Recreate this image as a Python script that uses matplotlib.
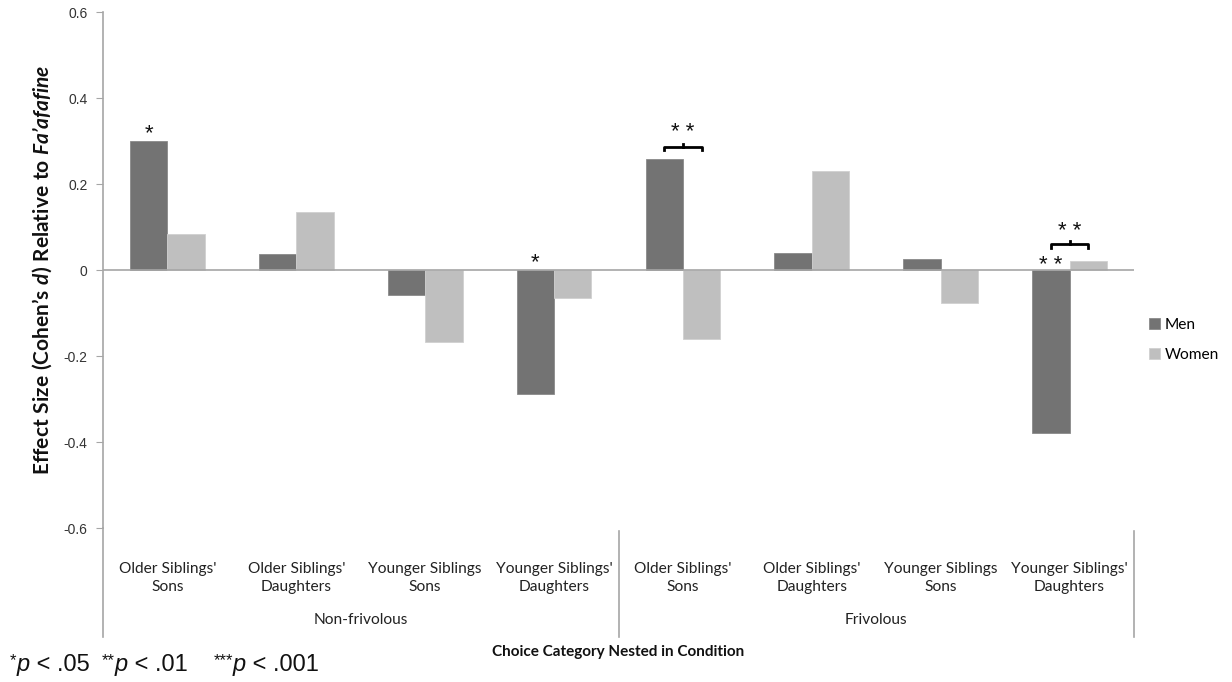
import numpy as np
import matplotlib.pyplot as plt
from matplotlib.transforms import blended_transform_factory, IdentityTransform

plt.rcParams['font.family'] = ['Lato', 'DejaVu Sans']
plt.rcParams['mathtext.fontset'] = 'custom'
plt.rcParams['mathtext.rm'] = 'Liberation Sans'
plt.rcParams['mathtext.it'] = 'Liberation Sans:italic'
plt.rcParams['mathtext.bf'] = 'Lato:bold'
plt.rcParams['mathtext.bfit'] = 'Lato:bold:italic'

# data
categories = ["Older Siblings'\nSons", "Older Siblings'\nDaughters",
              "Younger Siblings\nSons", "Younger Siblings'\nDaughters",
              "Older Siblings'\nSons", "Older Siblings'\nDaughters",
              "Younger Siblings\nSons", "Younger Siblings'\nDaughters"]
conditions = ["Non-frivolous", "Frivolous"]
men = [0.300, 0.037, -0.058, -0.288, 0.258, 0.040, 0.026, -0.379]
women = [0.084, 0.135, -0.167, -0.065, -0.160, 0.230, -0.077, 0.021]
yticks = [-0.6, -0.4, -0.2, 0, 0.2, 0.4, 0.6]
ytick_labels = ["-0.6", "-0.4", "-0.2", "0", "0.2", "0.4", "0.6"]
footnote = [("*", " < .05"), ("**", " < .01"), ("***", " < .001")]

men_color = '#737373'
women_color = '#bfbfbf'
axis_color = '#a6a6a6'

fig = plt.figure(figsize=(12.32, 6.82), dpi=100)
ax = fig.add_axes([103 / 1232, 1 - 528 / 682, (1134 - 103) / 1232, (528 - 12) / 682])

x = np.arange(len(categories))
w = 0.29
ax.bar(x - w / 2, men, w, color=men_color, edgecolor='#8a8a8a', linewidth=0.6, label='Men')
ax.bar(x + w / 2, women, w, color=women_color, edgecolor='#d0d0d0', linewidth=0.6, label='Women')

ax.set_xlim(-0.5, 7.5)
ax.set_ylim(-0.6, 0.6)
ax.axhline(0, color=axis_color, lw=1.2)

for s in ['top', 'right', 'bottom']:
    ax.spines[s].set_visible(False)
ax.spines['left'].set_color(axis_color)
ax.spines['left'].set_linewidth(1.2)
ax.set_xticks([])
ax.set_yticks(yticks)
ax.set_yticklabels(ytick_labels, fontsize=10, color='#333333', family='Liberation Sans')
ax.tick_params(axis='y', length=5, color=axis_color, pad=6)

# extended axis area for category labels
bt = blended_transform_factory(ax.transData, ax.transAxes)
low = -(637 - 528) / 516
ax.plot([-0.5, -0.5], [0, low], color=axis_color, lw=1.2, transform=bt, clip_on=False)
for xs in [3.5, 7.5]:
    ax.plot([xs, xs], [-0.005, low], color=axis_color, lw=1.2, transform=bt, clip_on=False)

for i, c in enumerate(categories):
    ax.text(i, -(578 - 528) / 516, c, transform=bt, ha='center', va='center',
            fontsize=11.2, color='#222222', linespacing=1.45)
for j, c in enumerate(conditions):
    ax.text(1.5 + 4 * j, -(620 - 528) / 516, c, transform=bt, ha='center', va='center',
            fontsize=11.2, color='#222222')

fig.text(618 / 1232, 1 - 652 / 682, "Choice Category Nested in Condition",
         ha='center', va='center', fontsize=11, weight='bold', color='#111111')

fig.text(42 / 1232, 1 - 270 / 682,
         "$\\mathbf{Effect\\ Size\\ (Cohen\u2019s\\ }\\mathbfit{d}\\mathbf{)\\ Relative\\ to\\ }"
         "\\mathbfit{Fa\u2019afafine}$",
         rotation=90, ha='center', va='center', fontsize=15, color='#111111')

# footnote: small raised stars, italic p, plain rest
renderer = fig.canvas.get_renderer()
px = 10
base = 682 - 671
gaps = [12, 26, 0]
for (stars, rest), gap in zip(footnote, gaps):
    for s, kw, dy in [(stars, dict(fontsize=12), 6), ("p", dict(fontsize=17, style='italic'), 0),
                      (rest, dict(fontsize=17), 0)]:
        t = fig.text(px, base + dy, s, transform=IdentityTransform(), ha='left', va='baseline',
                     family='Liberation Sans', color='#111111', **kw)
        px = t.get_window_extent(renderer).x1
    px += gap

# significance marks
star_kw = dict(ha='center', va='center', fontsize=16, family='Liberation Sans', color='#111111')
ax.text(0 - w / 2, 0.316, "*", **star_kw)
ax.text(3 - w / 2, 0.016, "*", **star_kw)
ax.text(7 - w / 2, 0.010, "* *", **star_kw)


def bracket(xc, y, label, ystar):
    x0, x1 = xc - w / 2, xc + w / 2
    h = 0.008
    ax.plot([x0, x0, x1, x1], [y - h, y, y, y - h], color='black', lw=2,
            solid_joinstyle='round')
    ax.plot([xc, xc], [y, y + h * 0.8], color='black', lw=2)
    ax.text(xc, ystar, label, **star_kw)


bracket(4, 0.286, "* *", 0.320)
bracket(7, 0.060, "* *", 0.090)

ax.legend(loc='center left', bbox_to_anchor=(1135 / 1232, 1 - 340 / 682),
          bbox_transform=fig.transFigure, frameon=False, fontsize=11.2,
          handlelength=0.7, handleheight=0.7, handletextpad=0.3, labelspacing=1.0)

fig.savefig('out.png', dpi=100)
